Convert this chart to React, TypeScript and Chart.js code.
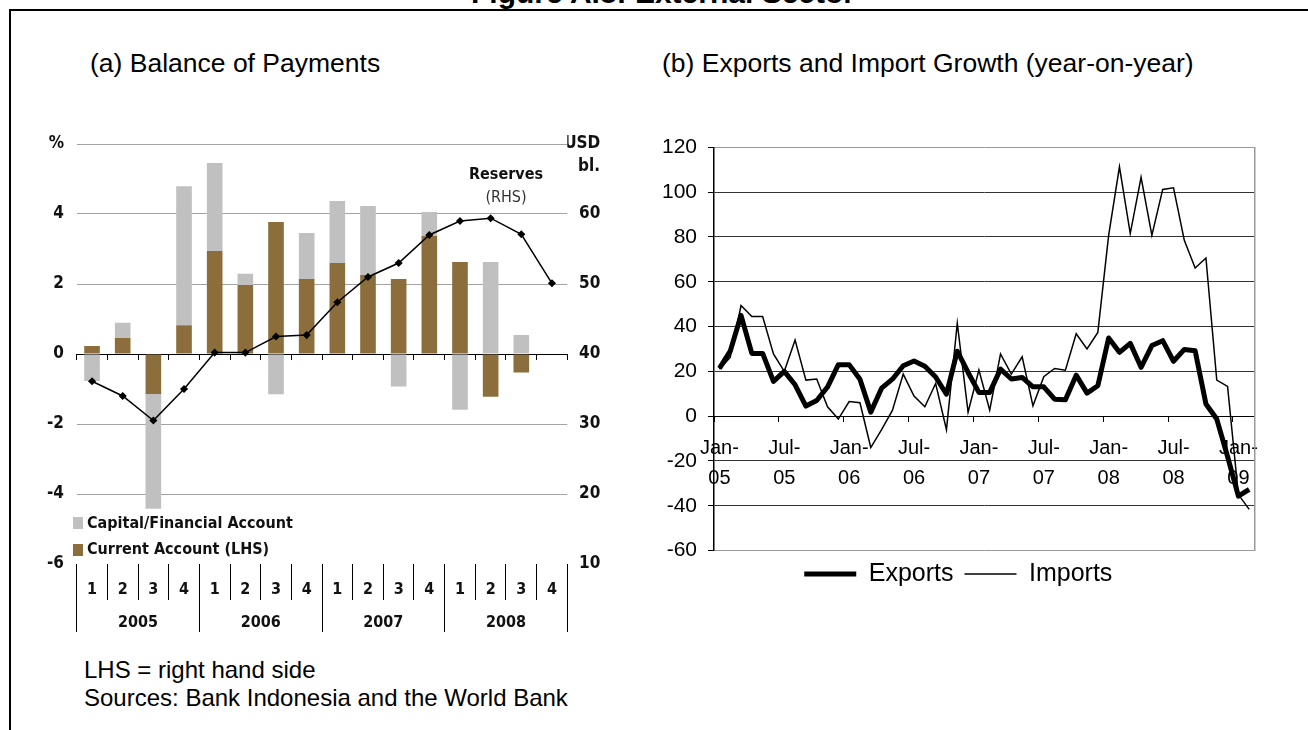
import React, { useEffect, useRef } from 'react';
import { Chart, registerables } from 'chart.js';

Chart.register(...registerables);

// ---------- Panel (a): Balance of Payments ----------
const QUARTERS = ['1', '2', '3', '4', '1', '2', '3', '4', '1', '2', '3', '4', '1', '2', '3', '4'];
const YEARS = ['2005', '2006', '2007', '2008'];
const CURRENT_ACCOUNT = [0.23, 0.46, -1.14, 0.82, 2.94, 1.97, 3.77, 2.14, 2.6, 2.26, 2.14, 3.37, 2.63, -1.22, -0.53, null];
const CAPITAL_ACCOUNT = [-0.77, 0.43, -3.28, 3.97, 2.52, 0.32, -1.15, 1.32, 1.77, 1.97, -0.93, 0.69, -1.59, 2.63, 0.54, null];
const RESERVES = [36.1, 34.0, 30.5, 35.0, 40.2, 40.2, 42.5, 42.7, 47.4, 51.0, 53.0, 57.0, 59.0, 59.4, 57.1, 50.1];

// ---------- Panel (b): Exports and Import Growth ----------
const MONTHS = [
  'Jan-05', 'Feb-05', 'Mar-05', 'Apr-05', 'May-05', 'Jun-05', 'Jul-05', 'Aug-05', 'Sep-05', 'Oct-05', 'Nov-05', 'Dec-05',
  'Jan-06', 'Feb-06', 'Mar-06', 'Apr-06', 'May-06', 'Jun-06', 'Jul-06', 'Aug-06', 'Sep-06', 'Oct-06', 'Nov-06', 'Dec-06',
  'Jan-07', 'Feb-07', 'Mar-07', 'Apr-07', 'May-07', 'Jun-07', 'Jul-07', 'Aug-07', 'Sep-07', 'Oct-07', 'Nov-07', 'Dec-07',
  'Jan-08', 'Feb-08', 'Mar-08', 'Apr-08', 'May-08', 'Jun-08', 'Jul-08', 'Aug-08', 'Sep-08', 'Oct-08', 'Nov-08', 'Dec-08',
  'Jan-09', 'Feb-09',
];
const EXPORTS = [
  21.3, 29, 45, 28, 28, 15.5, 20, 14, 4.5, 7, 13, 23,
  23, 16.5, 1.8, 12.5, 16.5, 22.5, 24.6, 22.3, 17.5, 9.8, 29, 19.5,
  10.6, 10.6, 21, 16.6, 17.3, 13.1, 13.1, 7.6, 7.3, 18.3, 10.3, 13.6,
  34.9, 28.5, 32.5, 21.8, 31.5, 33.7, 24.5, 29.8, 29.2, 5.4, -1.3, -18,
  -35.7, -32.7,
];
const IMPORTS = [
  21, 26.2, 49.4, 44.5, 44.5, 27.8, 20, 34, 16.1, 16.6, 4.2, -1.3,
  6.5, 6, -14, -6, 2.6, 18.8, 9, 4.2, 14.6, -6, 41.5, 1.8,
  20.6, 2.7, 27.8, 18.8, 26.5, 4.6, 17.6, 21.3, 20.5, 36.8, 30, 37.4,
  80.7, 111.3, 81.5, 106.6, 80.7, 101.2, 101.9, 78.5, 66.1, 70.6, 16.1, 13.3,
  -35, -41.6,
];

const FONT_A = "'DejaVu Sans Condensed', 'DejaVu Sans', sans-serif";
const FONT_B = "'Liberation Sans', Arial, sans-serif";
const BROWN = '#8C6E3C';
const GREY = '#C0C0C0';

function configA(): any {
  const tickFont = { family: FONT_A, size: 16, weight: 'bold' as const };
  const axisFont = { family: FONT_A, size: 17, weight: 'bold' as const };
  return {
    type: 'bar',
    data: {
      labels: QUARTERS,
      datasets: [
        {
          type: 'line',
          label: 'Reserves (RHS)',
          data: RESERVES,
          xAxisID: 'x',
          yAxisID: 'y2',
          borderColor: '#000',
          borderWidth: 1.5,
          pointStyle: 'rectRot',
          pointRadius: 3,
          pointBackgroundColor: '#000',
          pointBorderColor: '#000',
          tension: 0,
          order: 0,
        },
        {
          label: 'Current Account (LHS)',
          data: CURRENT_ACCOUNT,
          xAxisID: 'x',
          yAxisID: 'y',
          backgroundColor: BROWN,
          borderWidth: 0,
          barPercentage: 0.51,
          categoryPercentage: 1,
          order: 1,
        },
        {
          label: 'Capital/Financial Account',
          data: CAPITAL_ACCOUNT,
          xAxisID: 'x',
          yAxisID: 'y',
          backgroundColor: GREY,
          borderWidth: 0,
          barPercentage: 0.51,
          categoryPercentage: 1,
          order: 2,
        },
      ],
    },
    options: {
      animation: false,
      responsive: false,
      maintainAspectRatio: false,
      layout: { padding: { top: 24, right: 19.7, bottom: 8, left: 0 } },
      plugins: { legend: { display: false }, tooltip: { enabled: false }, title: { display: false } },
      scales: {
        x: {
          type: 'category',
          position: { y: 0 },
          stacked: true,
          offset: true,
          grid: { offset: true, drawOnChartArea: false, tickLength: 6, tickColor: '#000', tickWidth: 1 },
          border: { display: false },
          ticks: { callback: () => '', autoSkip: false, maxRotation: 0 },
        },
        xq: {
          type: 'category',
          labels: QUARTERS,
          position: 'bottom',
          weight: 1,
          offset: true,
          grid: { offset: true, drawOnChartArea: false, tickLength: 36, tickColor: '#000', tickWidth: 1 },
          border: { display: false },
          ticks: { padding: -20, font: tickFont, color: '#111', autoSkip: false, maxRotation: 0 },
          afterFit: (s: any) => { s.height = 36; },
        },
        xy: {
          type: 'category',
          labels: YEARS,
          position: 'bottom',
          weight: 2,
          offset: true,
          grid: { offset: true, drawOnChartArea: false, tickLength: 32, tickColor: '#000', tickWidth: 1 },
          border: { display: false },
          ticks: { padding: -18.6, font: tickFont, color: '#111', autoSkip: false, maxRotation: 0 },
          afterFit: (s: any) => { s.height = 32; },
        },
        y: {
          position: 'left',
          min: -6,
          max: 6,
          stacked: true,
          ticks: {
            stepSize: 2,
            padding: 12.7,
            font: axisFont,
            color: '#111',
            callback: (v: any) => (v === 6 ? '%' : String(v)),
          },
          grid: {
            drawTicks: false,
            lineWidth: 1,
            color: (c: any) => {
              const v = c.tick ? c.tick.value : null;
              if (v === 0) return '#000';
              if (v === -6) return 'rgba(0,0,0,0)';
              return '#a3a3a3';
            },
          },
          border: { display: false },
          afterFit: (s: any) => { s.width = 76.7; },
        },
        y2: {
          position: 'right',
          min: 10,
          max: 70,
          ticks: {
            stepSize: 10,
            padding: 0,
            crossAlign: 'far',
            font: axisFont,
            color: '#111',
            callback: (v: any) => (v === 70 ? 'USD' : String(v)),
          },
          grid: { drawOnChartArea: false, drawTicks: false },
          border: { display: false },
          afterFit: (s: any) => { s.width = 33; },
        },
      },
    },
  };
}

function configB(): any {
  return {
    type: 'line',
    data: {
      labels: MONTHS,
      datasets: [
        {
          label: 'Exports',
          data: EXPORTS,
          borderColor: '#000',
          backgroundColor: '#000',
          borderWidth: 5,
          pointRadius: 0,
          tension: 0,
          borderJoinStyle: 'round',
        },
        {
          label: 'Imports',
          data: IMPORTS,
          borderColor: '#000',
          backgroundColor: '#000',
          borderWidth: 1.5,
          pointRadius: 0,
          tension: 0,
        },
      ],
    },
    options: {
      animation: false,
      responsive: false,
      maintainAspectRatio: false,
      layout: { padding: { top: 27.3, right: 25.4, bottom: 15.4, left: 42 } },
      plugins: {
        tooltip: { enabled: false },
        legend: {
          position: 'bottom',
          labels: {
            usePointStyle: true,
            pointStyleWidth: 52,
            padding: 11,
            color: '#000',
            font: { family: FONT_B, size: 25 },
            generateLabels: (chart: any) =>
              chart.data.datasets.map((ds: any, i: number) => ({
                text: ds.label,
                fillStyle: '#000',
                strokeStyle: '#000',
                lineWidth: ds.borderWidth,
                pointStyle: 'line',
                hidden: false,
                datasetIndex: i,
                fontColor: '#000',
              })),
          },
        },
      },
      scales: {
        x: {
          type: 'category',
          position: { y: 0 },
          offset: true,
          grid: {
            offset: true,
            drawOnChartArea: false,
            tickLength: 6,
            tickWidth: 1,
            tickColor: (c: any) => (typeof c.index === 'number' && c.index % 6 === 0 ? '#000' : 'rgba(0,0,0,0)'),
          },
          border: { display: false },
          ticks: {
            autoSkip: false,
            maxRotation: 0,
            minRotation: 0,
            padding: 11.7,
            color: '#000',
            font: { family: FONT_B, size: 20, lineHeight: 1.5 },
            callback: (_v: any, index: number) => {
              if (index % 6 !== 0) return '';
              const parts = MONTHS[index].split('-');
              return [parts[0] + '-', parts[1]];
            },
          },
        },
        y: {
          position: 'left',
          min: -60,
          max: 120,
          ticks: { stepSize: 20, padding: 11, color: '#000', font: { family: FONT_B, size: 21 } },
          grid: {
            tickLength: 6,
            tickColor: '#000',
            lineWidth: 1,
            color: (c: any) => {
              const v = c.tick ? c.tick.value : null;
              if (v === 120 || v === -60) return '#9a9a9a';
              if (v === 0) return '#000';
              return '#333';
            },
          },
          border: { color: '#000', width: 1.5 },
          afterFit: (s: any) => { s.width = 52; },
        },
        y2: {
          position: 'right',
          min: -60,
          max: 120,
          ticks: { display: false },
          grid: { display: false },
          border: { display: true, color: '#9a9a9a', width: 1.5 },
          afterFit: (s: any) => { s.width = 0; },
        },
      },
    },
  };
}

const abs = (s: React.CSSProperties): React.CSSProperties => ({ position: 'absolute', whiteSpace: 'nowrap', margin: 0, ...s });

export default function App() {
  const refA = useRef<HTMLCanvasElement>(null);
  const refB = useRef<HTMLCanvasElement>(null);

  useEffect(() => {
    const a = new Chart(refA.current as HTMLCanvasElement, configA());
    const b = new Chart(refB.current as HTMLCanvasElement, configB());
    return () => {
      a.destroy();
      b.destroy();
    };
  }, []);

  const aText: React.CSSProperties = { fontFamily: FONT_A, fontSize: 16, fontWeight: 'bold', lineHeight: '20px', color: '#111' };
  const bText: React.CSSProperties = { fontFamily: FONT_B, color: '#000' };

  return (
    <div style={{ position: 'absolute', left: 0, top: 0, width: 1308, height: 730, overflow: 'hidden', background: '#fff' }}>
      {/* frame */}
      <div style={abs({ left: 9, top: 9, width: 1400, height: 2, background: '#000' })} />
      <div style={abs({ left: 9, top: 9, width: 2, height: 800, background: '#000' })} />
      <div style={abs({ ...bText, left: 413, width: 500, top: -22, fontSize: 30, lineHeight: '30px', fontWeight: 'bold', textAlign: 'center' })}>
        Figure A.8: External Sector
      </div>

      {/* titles */}
      <div style={abs({ ...bText, left: 90, top: 47, fontSize: 26.5, lineHeight: '32px' })}>(a) Balance of Payments</div>
      <div style={abs({ ...bText, left: 662, top: 47, fontSize: 26.5, lineHeight: '32px' })}>
        (b) Exports and Import Growth (year-on-year)
      </div>

      <canvas ref={refA} width={620} height={520} style={{ position: 'absolute', left: 0, top: 120, width: 620, height: 520 }} />
      <canvas ref={refB} width={660} height={492} style={{ position: 'absolute', left: 620, top: 120, width: 660, height: 492 }} />

      {/* panel (a) annotations */}
      <div style={abs({ ...aText, fontSize: 17, left: 500, width: 100, top: 155, textAlign: 'right' })}>bl.</div>
      <div style={abs({ ...aText, left: 456, width: 100, top: 164, textAlign: 'center' })}>Reserves</div>
      <div style={abs({ ...aText, left: 456, width: 100, top: 187, textAlign: 'center', fontWeight: 'normal', color: '#333' })}>(RHS)</div>

      {/* panel (a) legend */}
      <div style={abs({ left: 73, top: 517, width: 10, height: 12, background: GREY })} />
      <div style={abs({ ...aText, left: 87, top: 513 })}>Capital/Financial Account</div>
      <div style={abs({ left: 73, top: 544, width: 10, height: 12, background: BROWN })} />
      <div style={abs({ ...aText, left: 87, top: 539 })}>Current Account (LHS)</div>

      {/* notes */}
      <div style={abs({ ...bText, left: 84, top: 656, fontSize: 24, lineHeight: '28px' })}>LHS = right hand side</div>
      <div style={abs({ ...bText, left: 84, top: 684, fontSize: 24, lineHeight: '28px' })}>
        Sources: Bank Indonesia and the World Bank
      </div>
    </div>
  );
}
